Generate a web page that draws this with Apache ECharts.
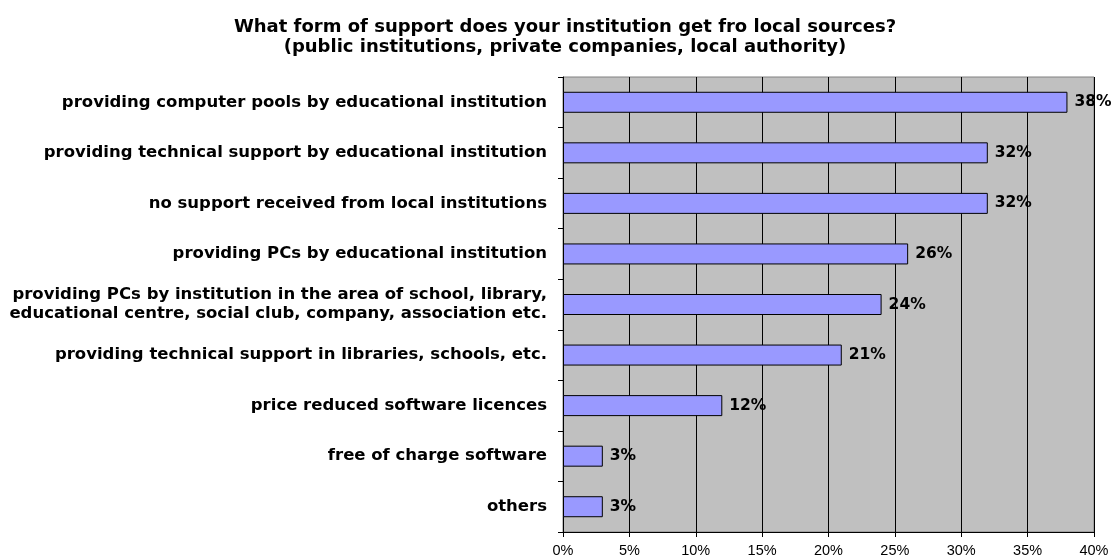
<!DOCTYPE html>
<html><head><meta charset="utf-8">
<script src="https://cdn.jsdelivr.net/npm/echarts@6/dist/echarts.min.js"></script>
<style>html,body{margin:0;padding:0;background:#fff}#c{width:1115px;height:558px}</style>
</head><body><div id="c"></div>
<script>
const titleText = "What form of support does your institution get fro local sources?\n(public institutions, private companies, local authority)";
const categories = [
  "providing computer pools by educational institution",
  "providing technical support by educational institution",
  "no support received from local institutions",
  "providing PCs by educational institution",
  "providing PCs by institution in the area of school, library,\neducational centre, social club, company, association etc.",
  "providing technical support in libraries, schools, etc.",
  "price reduced software licences",
  "free of charge software",
  "others"
];
const values = [38, 32, 32, 26, 24, 21, 12, 3, 3];
const xMin = 0, xMax = 40, xStep = 5;

const chart = echarts.init(document.getElementById('c'), null, {renderer:'canvas'});
chart.setOption({
  animation:false,
  backgroundColor:'#ffffff',
  title:{
    text:titleText, left:560, top:12, textAlign:'center',
    textStyle:{fontFamily:'DejaVu Sans', fontWeight:'bold', fontSize:18, color:'#000', lineHeight:20}
  },
  grid:{left:563, top:77, width:531, height:456, backgroundColor:'#c0c0c0', show:true, borderColor:'#808080', borderWidth:1},
  xAxis:{
    type:'value', min:xMin, max:xMax, interval:xStep,
    axisLine:{show:true, lineStyle:{color:'#000', width:1}},
    axisTick:{show:true, length:5, lineStyle:{color:'#000'}},
    axisLabel:{formatter: v => v + '%', fontFamily:'Liberation Sans, Arial', fontSize:14.5, color:'#000', margin:11},
    splitLine:{show:true, lineStyle:{color:'#000', width:1}}
  },
  yAxis:{
    type:'category', data:categories, inverse:true,
    axisLine:{show:true, lineStyle:{color:'#000'}},
    axisTick:{show:true, length:5, inside:false, lineStyle:{color:'#000'}},
    axisLabel:{fontFamily:'DejaVu Sans', fontWeight:'bold', fontSize:16.5, color:'#000', margin:16, lineHeight:19, align:'right'}
  },
  series:[{
    type:'bar', data:values, barWidth:21,
    itemStyle:{color:'#9999ff', borderColor:'#000', borderWidth:1},
    label:{show:true, position:'right', distance:7, formatter: p => p.value + '%', fontFamily:'DejaVu Sans', fontWeight:'bold', fontSize:15.5, color:'#000'}
  }]
});
</script></body></html>
